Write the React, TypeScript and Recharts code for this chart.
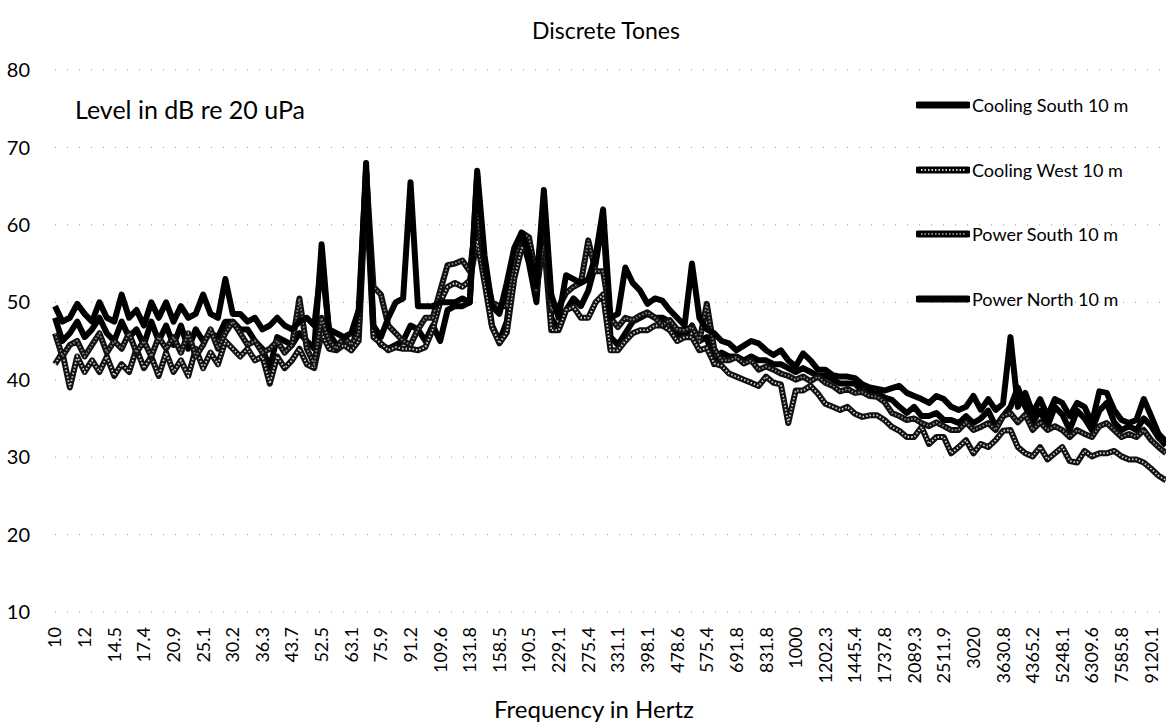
import React from 'react';
import { LineChart, Line, XAxis, YAxis, CartesianGrid, Legend } from 'recharts';

// one sample every 2 steps of 1/100 decade, starting at 10 Hz
const STEP = 2;

const freqLabels = [
  '10', '12', '14.5', '17.4', '20.9', '25.1', '30.2', '36.3', '43.7', '52.5',
  '63.1', '75.9', '91.2', '109.6', '131.8', '158.5', '190.5', '229.1', '275.4', '331.1',
  '398.1', '478.6', '575.4', '691.8', '831.8', '1000', '1202.3', '1445.4', '1737.8', '2089.3',
  '2511.9', '3020', '3630.8', '4365.2', '5248.1', '6309.6', '7585.8', '9120.1',
];

const yTicks = [10, 20, 30, 40, 50, 60, 70, 80];

const coolingSouth = [
  48, 45, 46, 47.5, 45.5, 46.5, 48, 46, 45, 47.5,
  45.5, 46.5, 44.5, 47.5, 45, 47, 44.5, 47, 44, 46.5,
  45, 46, 45.5, 47.5, 47.5, 46.5, 46.5, 45, 44, 41.5,
  45.5, 45, 44.5, 46, 45, 44, 57.5, 46, 44.5, 45,
  44, 47, 68, 46, 44.5, 44, 44.5, 45, 47, 46.5,
  45, 47, 45, 49, 49.5, 49.5, 50, 66.5, 54, 47,
  45, 47.5, 55, 58.5, 55, 50, 63.5, 48, 46.5, 49,
  50.5, 49.5, 51.5, 55, 61, 45.5, 44.5, 46, 47.5, 48,
  48.5, 48, 48, 47.5, 46, 45.5, 47, 45, 45.5, 42,
  43.5, 43, 43, 42.5, 43, 42.5, 42.5, 42, 42, 41.5,
  41, 41.5, 41, 40.5, 40.5, 40, 39.5, 39.5, 39.5, 38.5,
  38.5, 38.2, 37.7, 37.4, 36.5, 35.7, 36.5, 35.3, 35.3, 35.7,
  34.8, 34.8, 34.4, 35.3, 34.4, 35, 36, 34, 35.3, 36.5,
  39, 36.5, 34.5, 36, 34, 36.5, 35.5, 33.5, 36, 35,
  33.5, 36, 37, 34.5, 33.5, 34, 33.5, 35, 34, 32.5,
  31.5,
];

const coolingWest = [
  42, 43.5, 39, 43, 41, 42.5, 41, 43, 40.5, 42,
  41, 44, 41.5, 43, 40.5, 43.5, 41, 42.5, 40.5, 44,
  41.5, 43.5, 42, 45, 44, 43, 44, 42.5, 43, 39.5,
  43, 41.5, 42.5, 44, 42, 41.5, 46, 44, 43.8, 44.5,
  43.8, 45, 65, 45.5, 44.7, 43.8, 44.2, 44, 44, 43.8,
  44.2, 46.5, 50, 52, 52.5, 52, 52.8, 58, 52.5, 46.8,
  44.7, 46.1, 53, 57, 57, 51.5, 58, 46.4, 46.4, 49,
  49.4, 48, 48, 50, 51, 43.8, 43.8, 45, 46, 46.4,
  46.4, 47, 47, 46.4, 45, 45.5, 45.5, 43.8, 44.1, 42.1,
  41.8, 40.8, 40.4, 40, 39.6, 39.2, 40.4, 39.6, 39.4, 34.4,
  38.6, 38.6, 39.2, 38.2, 36.9, 36.5, 36.1, 36.5, 35.6, 35.2,
  35.4, 35.4, 34.8, 33.9, 33.4, 32.6, 32.6, 33.9, 31.7, 32.6,
  32.6, 30.5, 31.3, 32.2, 30.5, 31.7, 31.3, 32.2, 33.4, 33.5,
  31.3, 30.5, 30.1, 31.3, 29.7, 30.5, 31.3, 29.5, 29.3, 30.8,
  30.1, 30.5, 30.5, 30.8, 30.1, 29.7, 29.7, 29.3, 28.5, 27.6,
  27,
];

const powerSouth = [
  46, 43, 44.5, 45, 43, 44.5, 46, 43.5, 45, 44,
  46, 43.5, 45, 43, 45.5, 44, 45.5, 43.5, 46, 43,
  44.5, 46.5, 44, 46, 47.5, 46, 44.5, 45, 43.5, 44,
  45, 43.5, 44.5, 50.5, 44, 42, 48, 45, 44, 45.5,
  44.5, 46, 67, 52, 51, 47, 46, 45, 44.5, 46.5,
  48, 48, 51.5, 54.8, 55, 55.4, 54, 61.5, 54.5, 50,
  49.5, 49.5, 55.5, 59, 58.4, 53.2, 61.5, 49, 49.4, 51.2,
  52, 52.5, 58, 54, 54, 48, 46.8, 48, 47.7, 48.3,
  48.7, 48, 47, 47.7, 46.5, 46.4, 46.8, 45, 49.8, 44,
  42.5, 42.5, 42.9, 42.1, 42.5, 41.3, 41.7, 41.3, 40.8, 40.5,
  40, 40.4, 39.8, 40.4, 39.6, 39.2, 38.5, 38.8, 38.3, 38.4,
  37.9, 37.8, 37.1, 35.7, 35.3, 34.8, 35, 34.4, 34, 34.5,
  34, 33.5, 33.5, 34.5, 33.5, 33.9, 34.4, 33.5, 35.3, 35.7,
  34.5, 35.5, 33.5, 34.5, 33.5, 34, 33.5, 32.6, 33.5, 33,
  32.6, 34, 34.4, 33.5, 32.6, 33, 32.6, 33.5, 32.2, 31.3,
  30.5,
];

const powerNorth = [
  49.5, 47.5, 48, 49.8, 48.5, 47.5, 50, 48, 47.5, 51,
  48, 49, 47, 50, 48, 50, 47.5, 49.5, 48, 48.5,
  51, 48.5, 48, 53, 48.5, 48.5, 47.5, 48, 46.5, 47,
  48, 47, 46.5, 47.5, 48, 47, 55, 46.5, 46, 45.5,
  46, 49, 67, 47, 45.5, 48, 50, 50.5, 65.5, 49.5,
  49.5, 49.5, 50, 50, 50, 50.5, 50, 67, 56, 49.5,
  48.5, 52.5, 57, 59, 56.5, 52, 64.5, 51, 48, 53.5,
  53, 52.5, 53, 56, 62, 48, 48.5, 54.5, 52.5, 51.5,
  49.8, 50.5, 50.2, 49, 48, 47, 55, 48, 46.5, 46,
  45, 44.7, 43.8, 44.4, 45, 44.7, 43.8, 43.2, 43.8, 42.5,
  41.7, 43.4, 42.5, 41.3, 41.3, 40.6, 40.4, 40.4, 40.2, 39.4,
  39, 38.8, 38.6, 38.9, 39.2, 38.3, 37.9, 37.5, 37, 37.9,
  37.5, 36.5, 36.1, 36.5, 37.9, 36.1, 37.5, 36.1, 36.9, 45.5,
  36.5, 38.3, 35.7, 37.5, 35.3, 37.5, 37, 35.3, 37, 36.5,
  34.4, 38.5, 38.3, 36.1, 34.8, 34.4, 34.8, 37.5, 35.3, 33,
  32,
];

const data = coolingSouth.map((v, k) => ({
  i: k * STEP,
  cs: v,
  cw: coolingWest[k],
  ps: powerSouth[k],
  pn: powerNorth[k],
}));

const xTicks = freqLabels.map((_, n) => n * 8);

const FONT = 'Lato, "Open Sans", sans-serif';

const legendItems = [
  { name: 'Cooling South 10 m', fill: null },
  { name: 'Cooling West 10 m', fill: '#d4d4d4' },
  { name: 'Power South 10 m', fill: '#8a8a8a' },
  { name: 'Power North 10 m', fill: null },
];

const XTick = (props: any) => {
  const { x, y, payload } = props;
  const label = freqLabels[Math.round(payload.value / 8)];
  return (
    <text
      x={x}
      y={y}
      transform={`rotate(-90 ${x} ${y})`}
      textAnchor="end"
      dy="0.36em"
      fontSize={18}
      fontFamily={FONT}
      fill="#000"
    >
      {label}
    </text>
  );
};

const renderLegend = () => (
  <div style={{ fontFamily: FONT, fontSize: 18, color: '#000' }}>
    {legendItems.map((item) => (
      <div key={item.name} style={{ height: 64.5, display: 'flex', alignItems: 'center' }}>
        <svg width={54} height={10} style={{ marginRight: 2 }}>
          <line x1={2} y1={5} x2={52} y2={5} stroke="#000" strokeWidth={7} strokeLinecap="round" />
          {item.fill && (
            <line x1={5} y1={5} x2={49} y2={5} stroke={item.fill} strokeWidth={2} strokeDasharray="1.5 2" />
          )}
        </svg>
        <span>{item.name}</span>
      </div>
    ))}
  </div>
);

export default function App() {
  return (
    <div style={{ position: 'relative', width: 1166, height: 727, background: '#fff', fontFamily: FONT }}>
      <style>{'body{margin:0;}'}</style>
      <div style={{ position: 'absolute', top: 16, left: 0, width: 1212, textAlign: 'center', fontSize: 23 }}>
        Discrete Tones
      </div>
      <div style={{ position: 'absolute', top: 94, left: 75, fontSize: 25 }}>Level in dB re 20 uPa</div>
      <div style={{ position: 'absolute', top: 694, left: 0, width: 1188, textAlign: 'center', fontSize: 24 }}>
        Frequency in Hertz
      </div>
      <LineChart width={1166} height={727} data={data} margin={{ top: 70, right: 0, bottom: 0, left: 0 }}>
        <CartesianGrid vertical={false} stroke="#9a9a9a" strokeDasharray="1 11" />
        <XAxis
          dataKey="i"
          type="number"
          domain={[0, 300]}
          ticks={xTicks}
          interval={0}
          height={115}
          axisLine={false}
          tickLine={false}
          tickSize={0}
          tickMargin={15}
          tick={<XTick />}
        />
        <YAxis
          domain={[10, 80]}
          ticks={yTicks}
          width={55}
          axisLine={false}
          tickLine={false}
          tickSize={0}
          tickMargin={25}
          tick={{ fontSize: 20, fill: '#000', fontFamily: FONT }}
        />
        <Legend
          layout="horizontal"
          verticalAlign="middle"
          align="center"
          content={renderLegend}
          wrapperStyle={{ top: 73, left: 916, width: 250 }}
        />
        <Line type="linear" dataKey="cs" name="Cooling South 10 m" stroke="#000" strokeWidth={6} strokeLinejoin="round" dot={false} isAnimationActive={false} />
        <Line type="linear" dataKey="cw" name="Cooling West 10 m" stroke="#111" strokeWidth={6} strokeLinejoin="round" dot={false} isAnimationActive={false} />
        <Line type="linear" dataKey="cw" legendType="none" stroke="#d4d4d4" strokeWidth={1.8} strokeDasharray="1.5 2" dot={false} isAnimationActive={false} />
        <Line type="linear" dataKey="ps" name="Power South 10 m" stroke="#111" strokeWidth={6} strokeLinejoin="round" dot={false} isAnimationActive={false} />
        <Line type="linear" dataKey="ps" legendType="none" stroke="#8a8a8a" strokeWidth={1.8} strokeDasharray="1.5 2" dot={false} isAnimationActive={false} />
        <Line type="linear" dataKey="pn" name="Power North 10 m" stroke="#000" strokeWidth={6} strokeLinejoin="round" dot={false} isAnimationActive={false} />
      </LineChart>
    </div>
  );
}
